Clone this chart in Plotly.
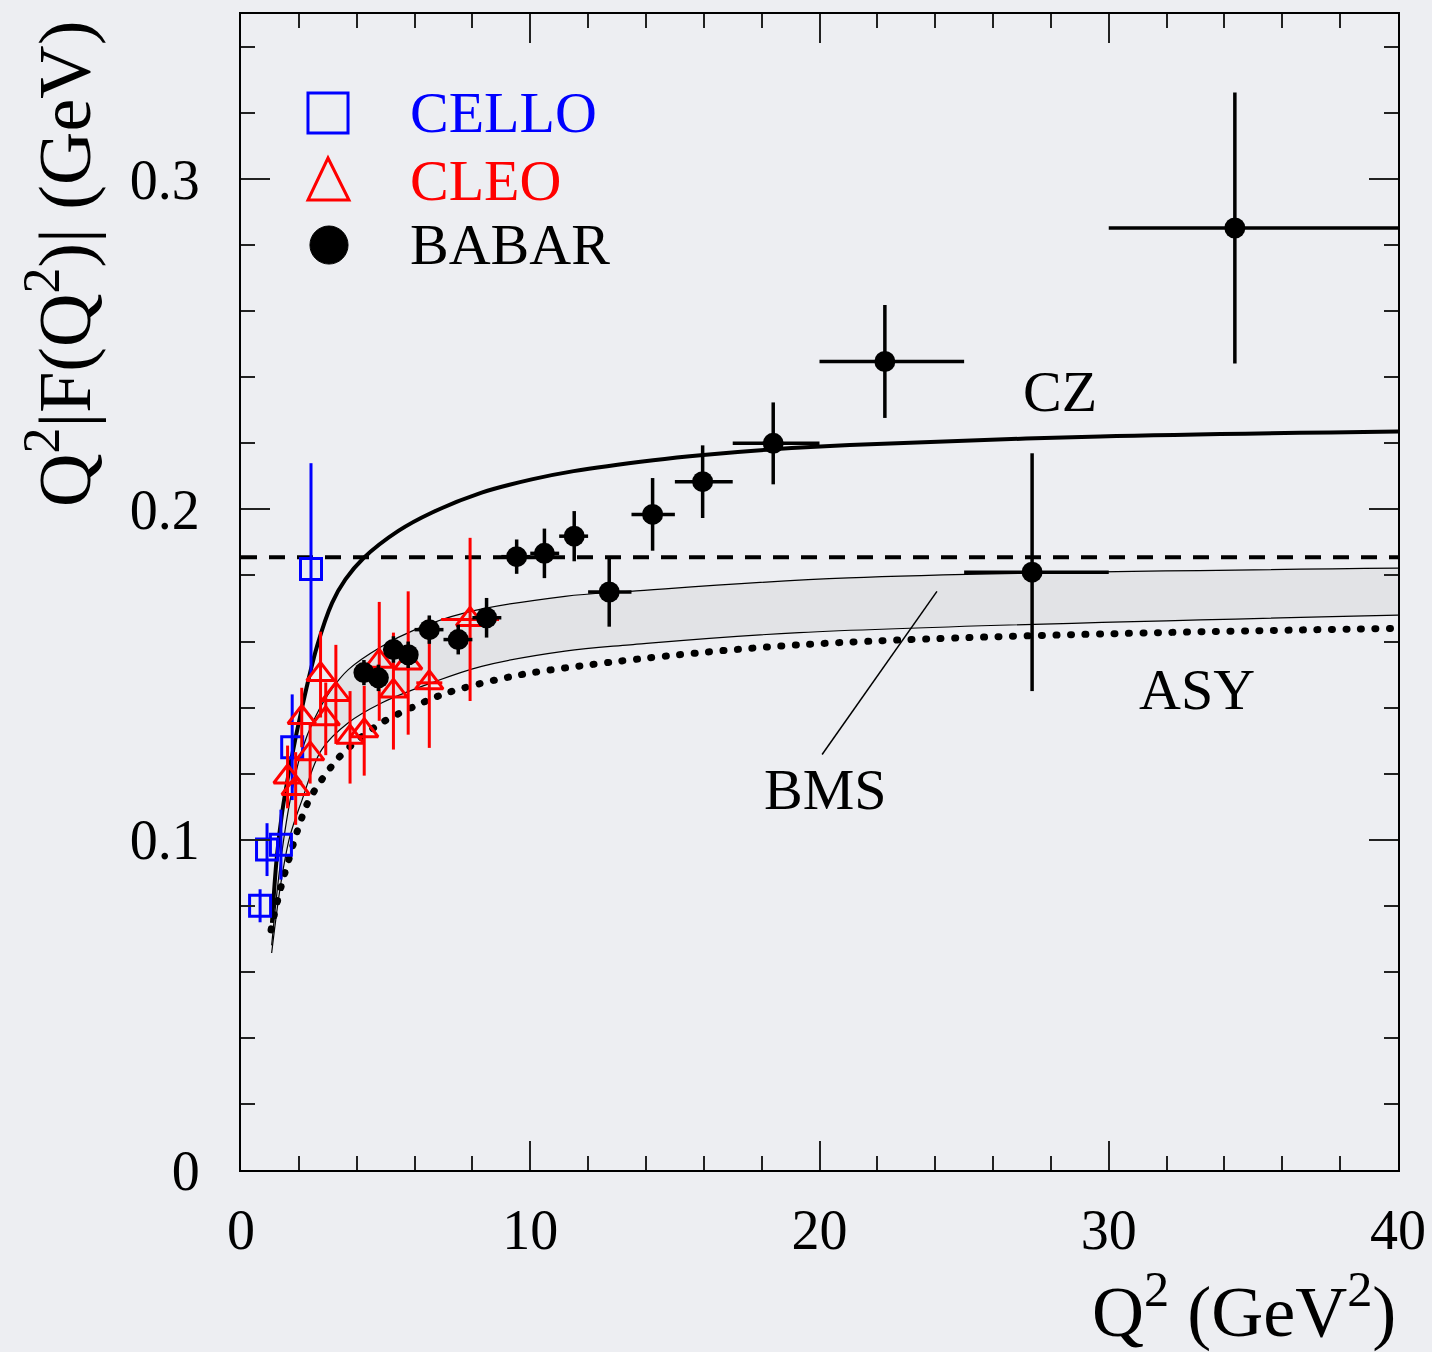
import plotly.graph_objects as go

# ---------------- data ----------------
cello_q2 = [0.66, 0.90, 1.38, 1.77, 2.42]
cello_f = [0.0800, 0.0970, 0.0985, 0.1280, 0.1820]
cello_err = [0.0050, 0.0080, 0.0106, 0.0160, 0.0320]

cleo_q2 = [1.61, 1.89, 2.10, 2.39, 2.75, 2.93, 3.28, 3.77, 4.26, 4.78, 5.27, 5.78, 6.51, 7.92]
cleo_f = [0.1190, 0.1155, 0.1370, 0.1260, 0.1500, 0.1366, 0.1440, 0.1310, 0.1330, 0.1540,
          0.1450, 0.1535, 0.1475, 0.1667]
cleo_err = [0.0095, 0.0110, 0.0090, 0.0090, 0.0130, 0.0110, 0.0150, 0.0140, 0.0136, 0.0180,
            0.0177, 0.0217, 0.0197, 0.0247]
cleo_xerr = [0, 0, 0, 0, 0, 0, 0, 0, 0, 0, 0, 0, 0.45, 1.0]

babar_q2 = [4.25, 4.75, 5.27, 5.78, 6.51, 7.51, 8.49, 9.53, 10.49, 11.52, 12.73, 14.23,
            15.96, 18.40, 22.26, 27.35, 34.36]
babar_f = [0.1506, 0.1490, 0.1576, 0.1560, 0.1636, 0.1606, 0.1672, 0.1857, 0.1867, 0.1919,
           0.1750, 0.1985, 0.2084, 0.2200, 0.2448, 0.1810, 0.2852]
babar_err = [0.0038, 0.0040, 0.0040, 0.0040, 0.0043, 0.0045, 0.0060, 0.0052, 0.0075, 0.0076,
             0.0105, 0.0110, 0.0110, 0.0124, 0.0171, 0.0360, 0.0410]
babar_lo = [4.0, 4.5, 5.0, 5.5, 6.0, 7.0, 8.0, 9.0, 10.0, 11.0, 12.0, 13.5, 15.0, 17.0, 20.0, 25.0, 30.0]
babar_hi = [4.5, 5.0, 5.5, 6.0, 7.0, 8.0, 9.0, 10.0, 11.0, 12.0, 13.5, 15.0, 17.0, 20.0, 25.0, 30.0, 40.0]

cz_q2 = [1.07, 1.24, 1.42, 1.65, 2.11, 2.63, 3.15, 3.61, 4.24, 5.44, 6.59, 8.32, 10.05, 11.5,
         14.25, 15.98, 18.4, 21.05, 29.7, 40.0]
cz_f = [0.0748, 0.0949, 0.1081, 0.1202, 0.1400, 0.1586, 0.1717, 0.1788, 0.1853, 0.1935, 0.1990,
        0.2051, 0.2091, 0.2116, 0.2149, 0.2165, 0.2182, 0.2195, 0.2221, 0.2236]

bms_up_q2 = [1.06, 1.35, 1.7, 2.1, 2.56, 3.13, 3.71, 4.86, 6.02, 7.74, 11.2, 13.45, 21.0, 40.0]
bms_up_f = [0.0680, 0.0920, 0.1120, 0.1270, 0.1370, 0.1455, 0.1515, 0.1585, 0.1636, 0.1687,
            0.1737, 0.1752, 0.1793, 0.1822]
bms_lo_q2 = [1.06, 1.38, 1.69, 2.11, 2.79, 3.71, 4.86, 6.59, 8.32, 11.2, 13.45, 19.3, 40.0]
bms_lo_f = [0.0657, 0.0869, 0.1010, 0.1120, 0.1273, 0.1354, 0.1414, 0.1475, 0.1525, 0.1571,
            0.1590, 0.1627, 0.1680]

asy_q2 = [1.04, 1.15, 1.38, 1.67, 1.98, 2.33, 2.90, 3.54, 4.75, 6.13, 7.11, 9.13, 11.2, 19.3, 40.0]
asy_f = [0.0727, 0.0772, 0.0856, 0.0945, 0.1035, 0.1116, 0.1195, 0.1263, 0.1348, 0.1409,
         0.1444, 0.1490, 0.1520, 0.1590, 0.1640]

limit_q2 = [0.0, 40.0]
limit_f = [0.1855, 0.1855]

x_ticks = [0, 10, 20, 30, 40]
x_ticklabels = ["0", "10", "20", "30", "40"]
y_ticks = [0, 0.1, 0.2, 0.3]
y_ticklabels = ["0", "0.1", "0.2", "0.3"]

# ---------------- style ----------------
FONT = "Liberation Serif"
BG = "rgb(237,238,242)"
BAND = "rgb(226,227,230)"
BLUE = "rgb(0,0,255)"
RED = "rgb(255,0,0)"

fig = go.Figure()

# BMS band
fig.add_trace(go.Scatter(x=bms_lo_q2, y=bms_lo_f, mode="lines", line=dict(color="black", width=1.2, shape="spline"),
                         showlegend=False, hoverinfo="skip"))
fig.add_trace(go.Scatter(x=bms_up_q2, y=bms_up_f, mode="lines", line=dict(color="black", width=1.2, shape="spline"),
                         fill="tonexty", fillcolor=BAND, showlegend=False, hoverinfo="skip"))
# ASY dotted
fig.add_trace(go.Scatter(x=asy_q2, y=asy_f, mode="lines",
                         line=dict(color="black", width=7, dash="1px,13.5px", shape="spline"),
                         showlegend=False, hoverinfo="skip"))
# CZ
fig.add_trace(go.Scatter(x=cz_q2, y=cz_f, mode="lines", line=dict(color="black", width=4, shape="spline"),
                         showlegend=False, hoverinfo="skip"))
# asymptotic limit
fig.add_trace(go.Scatter(x=limit_q2, y=limit_f, mode="lines",
                         line=dict(color="black", width=4, dash="16px,12px"),
                         showlegend=False, hoverinfo="skip"))

# CELLO
fig.add_trace(go.Scatter(x=cello_q2, y=cello_f, mode="markers", name="CELLO",
                         marker=dict(symbol="square-open", size=21, color=BLUE,
                                     line=dict(width=3, color=BLUE)),
                         error_y=dict(type="data", array=cello_err, color=BLUE, thickness=3, width=0),
                         showlegend=False))
# CLEO
fig.add_trace(go.Scatter(x=cleo_q2, y=cleo_f, mode="markers", name="CLEO",
                         marker=dict(symbol="triangle-up-open", size=24, color=RED,
                                     line=dict(width=3, color=RED)),
                         error_y=dict(type="data", array=cleo_err, color=RED, thickness=3, width=0),
                         error_x=dict(type="data", array=cleo_xerr, color=RED, thickness=3, width=0),
                         showlegend=False))
# BABAR
babar_xp = [h - q for h, q in zip(babar_hi, babar_q2)]
babar_xm = [q - l for q, l in zip(babar_q2, babar_lo)]
fig.add_trace(go.Scatter(x=babar_q2, y=babar_f, mode="markers", name="BABAR",
                         marker=dict(symbol="circle", size=21, color="black"),
                         error_y=dict(type="data", array=babar_err, color="black", thickness=3.5, width=0),
                         error_x=dict(type="data", array=babar_xp, arrayminus=babar_xm,
                                      color="black", thickness=3.5, width=0),
                         showlegend=False))

# curve labels
label_font = dict(family=FONT, size=58, color="black")
fig.add_annotation(x=28.3, y=0.2358, text="CZ", showarrow=False, font=label_font, xref="x", yref="y")
fig.add_annotation(x=33.05, y=0.1455, text="ASY", showarrow=False, font=label_font, xref="x", yref="y")
fig.add_annotation(x=20.19, y=0.1152, text="BMS", showarrow=False, font=label_font, xref="x", yref="y")
fig.add_shape(type="line", xref="x", yref="y", x0=20.09, y0=0.1258, x1=24.06, y1=0.1752,
              line=dict(color="black", width=1.5))

# hand-drawn legend (paper coordinates)
fig.add_shape(type="rect", xref="paper", yref="paper", x0=0.0579, x1=0.0925, y0=0.897, y1=0.9317,
              line=dict(color=BLUE, width=3), fillcolor="rgba(0,0,0,0)")
fig.add_shape(type="path", xref="paper", yref="paper",
              path="M 0.0579 0.8391 L 0.0933 0.8391 L 0.0752 0.8754 Z",
              line=dict(color=RED, width=3), fillcolor="rgba(0,0,0,0)")
fig.add_shape(type="circle", xref="paper", yref="paper", x0=0.0596, x1=0.0925, y0=0.7837, y1=0.8166,
              line=dict(color="black", width=1), fillcolor="black")
for txt, yy, col in [("CELLO", 0.9144, BLUE), ("CLEO", 0.8564, RED), ("BABAR", 0.8002, "black")]:
    fig.add_annotation(x=0.1443, y=yy, xref="paper", yref="paper", text=txt, showarrow=False,
                       xanchor="left", yanchor="middle", font=dict(family=FONT, size=58, color=col))

# axis titles
fig.add_annotation(x=-0.157, y=0.996, xref="paper", yref="paper", text="Q<sup>2</sup>|F(Q<sup>2</sup>)| (GeV)",
                   textangle=-90, showarrow=False, xanchor="center", yanchor="top",
                   font=dict(family=FONT, size=74, color="black"))
fig.add_annotation(x=1.0, y=-0.118, xref="paper", yref="paper", text="Q<sup>2</sup> (GeV<sup>2</sup>)",
                   showarrow=False, xanchor="right", yanchor="middle",
                   font=dict(family=FONT, size=72, color="black"))

axis_common = dict(ticks="inside", ticklen=29, tickwidth=1.5, tickcolor="#222", showline=True,
                   linewidth=2, linecolor="black", mirror="ticks", showgrid=False, zeroline=False,
                   automargin=False, tickfont=dict(family=FONT, size=56, color="black"))
fig.update_xaxes(range=[0, 40], tickvals=x_ticks, ticktext=x_ticklabels, ticklabelstandoff=10,
                 minor=dict(dtick=2, ticklen=14, ticks="inside", tickwidth=1.5, tickcolor="#222", showgrid=False),
                 **axis_common)
fig.update_yaxes(range=[0, 0.35], tickvals=y_ticks, ticktext=y_ticklabels, ticklabelstandoff=28,
                 minor=dict(dtick=0.02, ticklen=14, ticks="inside", tickwidth=1.5, tickcolor="#222", showgrid=False),
                 **axis_common)

fig.update_layout(width=1432, height=1352, margin=dict(l=241, r=34, t=14, b=182, autoexpand=False),
                  paper_bgcolor=BG, plot_bgcolor=BG, showlegend=False,
                  font=dict(family=FONT, color="black"))

post = ("document.body.style.margin='0';document.body.style.backgroundColor='" + BG + "';"
        "document.querySelectorAll('path.js-line').forEach(function(p){"
        "var d=p.style.strokeDasharray||''; if(d.indexOf('1px')===0){p.style.strokeLinecap='round';}});")
fig.write_html("out.html", post_script=post, config={"displayModeBar": False})
